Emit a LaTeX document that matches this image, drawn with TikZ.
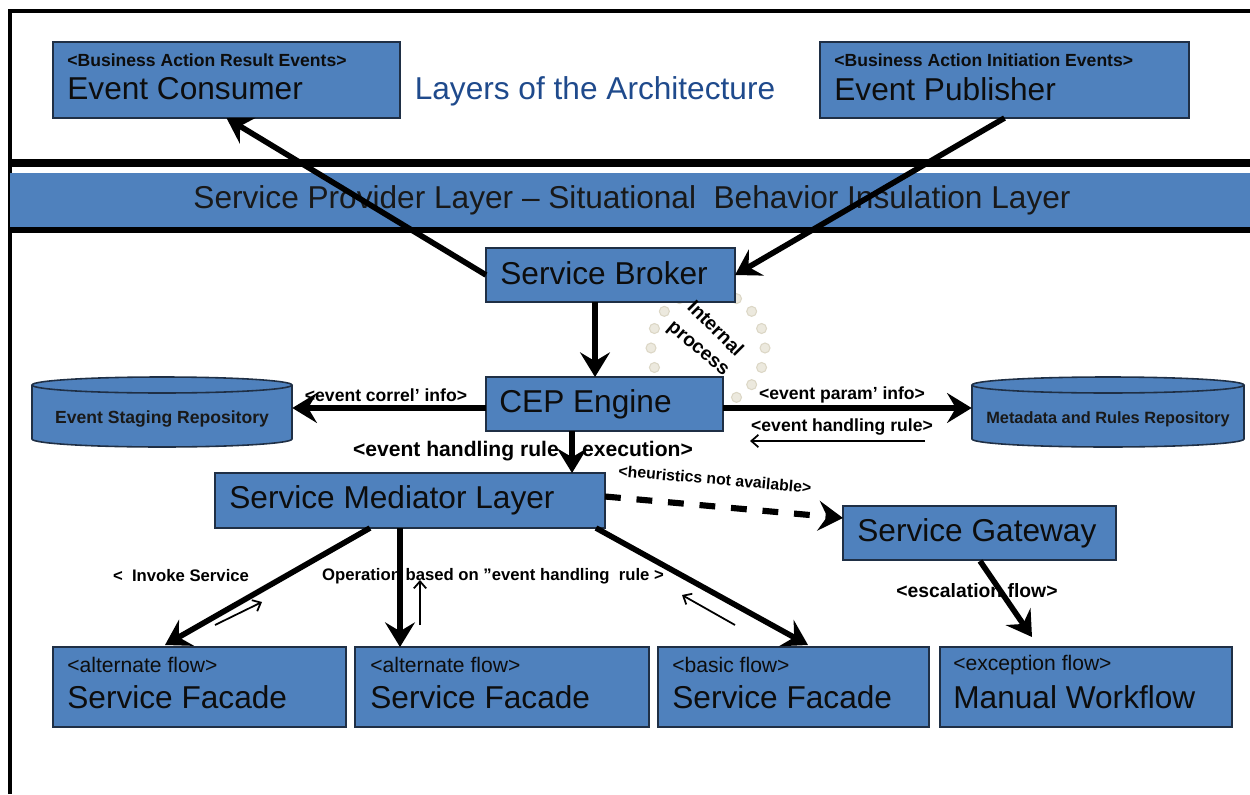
\documentclass[tikz,border=0pt]{standalone}
\usepackage{fontspec}
\setmainfont{Liberation Sans}
\usetikzlibrary{arrows.meta,calc}
\definecolor{boxblue}{HTML}{4F81BD}
\definecolor{boxedge}{HTML}{1F2F45}
\definecolor{titleblue}{HTML}{1F4A8C}
\definecolor{dotfill}{HTML}{ECE9DE}
\definecolor{dotedge}{HTML}{DCD7C6}
\newcommand\pbox[5]{\node[box, minimum width={(#4-#2)*0.02cm}, minimum height={(#5-#3)*0.02cm}] (#1) at ({(#2+#4)/2},{(#3+#5)/2}) {};}
\begin{document}
\begin{tikzpicture}[x=0.02cm,y=-0.02cm,
  box/.style={draw=boxedge, line width=0.9pt, fill=boxblue, inner sep=0pt, outer sep=0pt},
  main/.style={anchor=west, inner sep=0pt, font=\fontsize{18}{20}\selectfont, text=black!95},
  small/.style={anchor=west, inner sep=0pt, font=\fontsize{12}{14}\selectfont, text=black!95},
  smallb/.style={anchor=west, inner sep=0pt, font=\bfseries\fontsize{10}{12}\selectfont, text=black!95},
  lbl/.style={inner sep=0pt, font=\bfseries\fontsize{10}{12}\selectfont},
  arr/.style={line width=3.2pt, -{Stealth[length=14pt,width=17pt,inset=5pt]}},
  tarr/.style={line width=1pt, -{Straight Barb[length=4pt,width=7pt]}},
  dotc/.style={fill=dotfill, draw=dotedge, line width=0.6pt}]
\useasboundingbox (0,0) rectangle (1250,794);
% frame
\draw[line width=1.8pt] (10,794) -- (10,11) -- (1250,11);
\fill[boxblue] (10,173) rectangle (1250,227);
\draw[line width=4.2pt] (10,163) -- (1250,163);
\draw[line width=3pt] (10,230) -- (1250,230);
\node[inner sep=0pt, font=\fontsize{18}{20}\selectfont, text=black!90] (band) at (632,200) {Service Provider Layer -- Situational\ \ Behavior Insulation Layer};
\node[inner sep=0pt, font=\fontsize{18}{20}\selectfont, text=titleblue] (title) at (595,91) {Layers of the Architecture};
% internal process dots
\foreach \a in {0,20,...,340} {
  \fill[dotc] ({708+57*cos(\a)},{348+57*sin(\a)}) circle (5);
}
% boxes
\pbox{ec}{53}{42}{400}{118}
\pbox{ep}{820}{42}{1189}{118}
\pbox{sb}{486}{248}{735}{302}
\pbox{cep}{486}{377}{723}{431}
\pbox{sml}{215}{473}{605}{528}
\pbox{sg}{843}{506}{1116}{560}
\pbox{sf1}{53}{647}{346}{727}
\pbox{sf2}{355}{647}{649}{727}
\pbox{sf3}{658}{647}{929}{727}
\pbox{mw}{940}{647}{1232}{727}
% cylinders
\foreach \cx/\rx in {162/130,1108/136} {
  \fill[boxblue] ({\cx-\rx},385) -- ({\cx-\rx},439) arc[start angle=180,end angle=360,x radius=\rx,y radius=-8] -- ({\cx+\rx},385) arc[start angle=0,end angle=180,x radius=\rx,y radius=-8] -- cycle;
  \draw[boxedge, line width=0.9pt] ({\cx-\rx},385) -- ({\cx-\rx},439) arc[start angle=180,end angle=360,x radius=\rx,y radius=-8] -- ({\cx+\rx},385);
  \draw[boxedge, line width=0.9pt] (\cx,385) ellipse[x radius=\rx,y radius=8];
}
\node[inner sep=0pt, minimum width=5.2cm, minimum height=1.2cm, font=\bfseries\fontsize{10}{12}\selectfont, text=black!90] (esr) at (162,419) {Event Staging Repository};
\node[inner sep=0pt, minimum width=5.44cm, minimum height=1.2cm, font=\bfseries\fontsize{9.3}{12}\selectfont, text=black!90] (mrr) at (1108,419) {Metadata and Rules Repository};
% box texts
\node[smallb] (ect1) at (67,60) {<Business Action Result Events>};
\node[main] (ect2) at (67,89) {Event Consumer};
\node[smallb] (ept1) at (834,60) {<Business Action Initiation Events>};
\node[main] (ept2) at (834,89) {Event Publisher};
\node[main] (sbt) at (500,273) {Service Broker};
\node[main] (cept) at (499,404) {CEP Engine};
\node[main] (smlt) at (229,500) {Service Mediator Layer};
\node[main] (sgt) at (857,533) {Service Gateway};
\node[small] (sf1a) at (67,665) {<alternate flow>};
\node[main] (sf1b) at (67,697) {Service Facade};
\node[small] (sf2a) at (370,665) {<alternate flow>};
\node[main] (sf2b) at (370,697) {Service Facade};
\node[small] (sf3a) at (672,665) {<basic flow>};
\node[main] (sf3b) at (672,697) {Service Facade};
\node[small] (mwa) at (953,665) {<exception flow>};
\node[main] (mwb) at (953,697) {Manual Workflow};
% coordinates
\coordinate (x595) at (595,0);
\coordinate (x572) at (572,0);
\coordinate (x370) at (370,0);
\coordinate (x400) at (400,0);
\coordinate (x596) at (596,0);
\coordinate (y408) at (0,408);
\coordinate (t1) at (165,645);
\coordinate (t3) at (808,645);
\coordinate (mwt) at (1032,637);
\coordinate (sgb) at (980,561);
\coordinate (hr1) at (925,441);
\coordinate (hr2) at (750,441);
\coordinate (b1s) at (215,625);
\coordinate (b1e) at (262,602);
\coordinate (b2s) at (420,625);
\coordinate (b2e) at (420,580);
\coordinate (b3s) at (735,625);
\coordinate (b3e) at (682,595);
% connectors
\draw[arr] (sb.west) -- (ec.south);
\draw[arr] (ep.south) -- (sb.east);
\draw[arr] (sb.south -| x595) -- (cep.north -| x595);
\draw[arr] (cep.west |- y408) -- (esr.east |- y408);
\draw[arr] (cep.east |- y408) -- (mrr.west |- y408);
\draw[tarr] (hr1) -- (hr2);
\draw[arr] (cep.south -| x572) -- (sml.north -| x572);
\draw[line width=3.5pt, dash pattern=on 9pt off 9pt, -{Stealth[length=14pt,width=17pt,inset=5pt]}] ($(sml.east)+(0,-4)$) -- ($(sg.west)+(0,-15)$);
\draw[arr] (sgb) -- (mwt);
\draw[arr] (sml.south -| x370) -- (t1);
\draw[arr] (sml.south -| x400) -- (sf2.north -| x400);
\draw[arr] (sml.south -| x596) -- (t3);
\draw[tarr] (b1s) -- (b1e);
\draw[tarr] (b2s) -- (b2e);
\draw[tarr] (b3s) -- (b3e);
% labels
\node[lbl] (l1) at (386,395) {<event correl\symbol{39} info>};
\node[lbl] (l2) at (842,395) {<event param\symbol{39} info>};
\node[lbl] (l3) at (842,427) {<event handling rule>};
\node[lbl, font=\bfseries\fontsize{12}{14}\selectfont] (l4) at (523,451) {<event handling rule\ \ \ \ execution>};
\node[lbl, rotate=-5, font=\bfseries\fontsize{9}{11}\selectfont] (l5) at (715,479) {<heuristics not available>};
\node[lbl, font=\bfseries\fontsize{11}{13}\selectfont] (l6) at (977,591) {<escalation flow>};
\node[lbl, font=\bfseries\fontsize{9.5}{11}\selectfont] (l7) at (181,576) {<\ \ Invoke Service};
\node[lbl, font=\bfseries\fontsize{9.5}{11}\selectfont] (l8) at (493,576) {Operation based on \symbol{34}event handling\ \ rule >};
\node[lbl, rotate=-45, font=\bfseries\fontsize{11}{12}\selectfont] (l9a) at (716,328) {Internal};
\node[lbl, rotate=-40, font=\bfseries\fontsize{11}{12}\selectfont] (l9b) at (697,350) {process};
\end{tikzpicture}
\end{document}
